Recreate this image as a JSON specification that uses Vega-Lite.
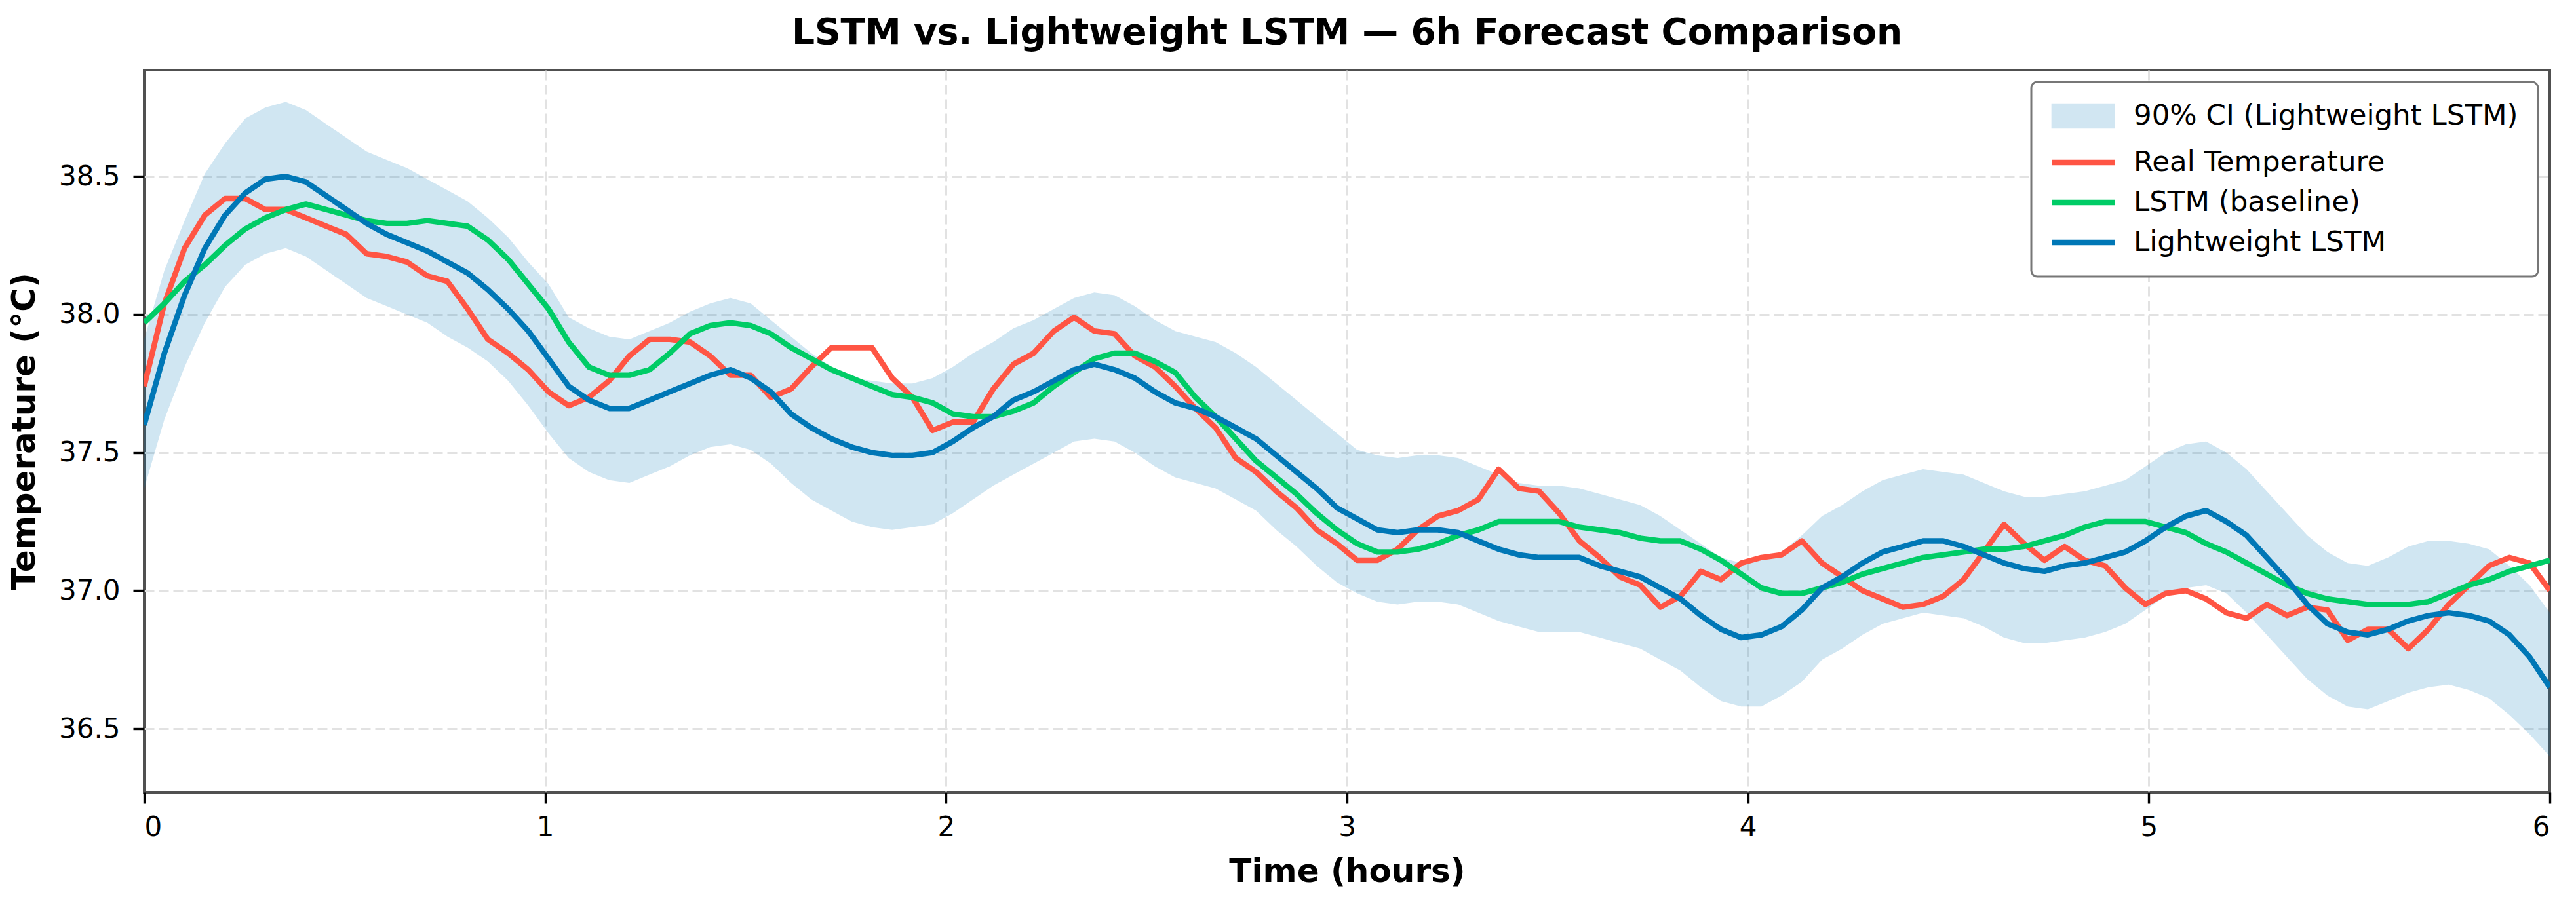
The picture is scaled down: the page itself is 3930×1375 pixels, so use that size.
{
  "$schema": "https://vega.github.io/schema/vega-lite/v6.json",
  "width": 3670,
  "height": 1102,
  "autosize": {"type": "none"},
  "padding": {"left": 220, "top": 107, "right": 40, "bottom": 166},
  "config": {
    "background": "white",
    "font": "DejaVu Sans",
    "view": {"stroke": "#505050", "strokeWidth": 4},
    "axis": {
      "domain": false,
      "labelFont": "DejaVu Sans",
      "labelFontSize": 42,
      "labelColor": "black",
      "titleFont": "DejaVu Sans",
      "titleFontSize": 50,
      "titleFontWeight": "bold",
      "titleColor": "black",
      "tickColor": "black",
      "tickWidth": 3.4,
      "tickSize": 17,
      "gridColor": "#e2e2e2",
      "gridWidth": 3,
      "gridDash": [15, 7]
    }
  },
  "title": {
    "text": "LSTM vs. Lightweight LSTM — 6h Forecast Comparison",
    "font": "DejaVu Sans",
    "fontSize": 55,
    "fontWeight": "bold",
    "color": "black",
    "anchor": "middle",
    "offset": 28
  },
  "data": {
    "values": [
      {"t": 0, "real": 37.74, "lstm": 37.97, "light": 37.6, "lo": 37.37, "hi": 37.91},
      {"t": 0.0504, "real": 38.04, "lstm": 38.04, "light": 37.86, "lo": 37.62, "hi": 38.16},
      {"t": 0.1008, "real": 38.24, "lstm": 38.12, "light": 38.07, "lo": 37.81, "hi": 38.34},
      {"t": 0.1513, "real": 38.36, "lstm": 38.18, "light": 38.24, "lo": 37.97, "hi": 38.51},
      {"t": 0.2017, "real": 38.42, "lstm": 38.25, "light": 38.36, "lo": 38.1, "hi": 38.62},
      {"t": 0.2521, "real": 38.42, "lstm": 38.31, "light": 38.44, "lo": 38.18, "hi": 38.71},
      {"t": 0.3025, "real": 38.38, "lstm": 38.35, "light": 38.49, "lo": 38.22, "hi": 38.75},
      {"t": 0.3529, "real": 38.38, "lstm": 38.38, "light": 38.5, "lo": 38.24, "hi": 38.77},
      {"t": 0.4034, "real": 38.35, "lstm": 38.4, "light": 38.48, "lo": 38.21, "hi": 38.74},
      {"t": 0.4538, "real": 38.32, "lstm": 38.38, "light": 38.43, "lo": 38.16, "hi": 38.69},
      {"t": 0.5042, "real": 38.29, "lstm": 38.36, "light": 38.38, "lo": 38.11, "hi": 38.64},
      {"t": 0.5546, "real": 38.22, "lstm": 38.34, "light": 38.33, "lo": 38.06, "hi": 38.59},
      {"t": 0.605, "real": 38.21, "lstm": 38.33, "light": 38.29, "lo": 38.03, "hi": 38.56},
      {"t": 0.6555, "real": 38.19, "lstm": 38.33, "light": 38.26, "lo": 38.0, "hi": 38.53},
      {"t": 0.7059, "real": 38.14, "lstm": 38.34, "light": 38.23, "lo": 37.97, "hi": 38.49},
      {"t": 0.7563, "real": 38.12, "lstm": 38.33, "light": 38.19, "lo": 37.92, "hi": 38.45},
      {"t": 0.8067, "real": 38.02, "lstm": 38.32, "light": 38.15, "lo": 37.88, "hi": 38.41},
      {"t": 0.8571, "real": 37.91, "lstm": 38.27, "light": 38.09, "lo": 37.83, "hi": 38.35},
      {"t": 0.9076, "real": 37.86, "lstm": 38.2, "light": 38.02, "lo": 37.76, "hi": 38.28},
      {"t": 0.958, "real": 37.8, "lstm": 38.11, "light": 37.94, "lo": 37.67, "hi": 38.19},
      {"t": 1.0084, "real": 37.72, "lstm": 38.02, "light": 37.84, "lo": 37.57, "hi": 38.11},
      {"t": 1.0588, "real": 37.67, "lstm": 37.9, "light": 37.74, "lo": 37.48, "hi": 37.99},
      {"t": 1.1092, "real": 37.7, "lstm": 37.81, "light": 37.69, "lo": 37.43, "hi": 37.95},
      {"t": 1.1597, "real": 37.76, "lstm": 37.78, "light": 37.66, "lo": 37.4, "hi": 37.92},
      {"t": 1.2101, "real": 37.85, "lstm": 37.78, "light": 37.66, "lo": 37.39, "hi": 37.91},
      {"t": 1.2605, "real": 37.91, "lstm": 37.8, "light": 37.69, "lo": 37.42, "hi": 37.94},
      {"t": 1.3109, "real": 37.91, "lstm": 37.86, "light": 37.72, "lo": 37.45, "hi": 37.97},
      {"t": 1.3613, "real": 37.9, "lstm": 37.93, "light": 37.75, "lo": 37.49, "hi": 38.01},
      {"t": 1.4118, "real": 37.85, "lstm": 37.96, "light": 37.78, "lo": 37.52, "hi": 38.04},
      {"t": 1.4622, "real": 37.78, "lstm": 37.97, "light": 37.8, "lo": 37.53, "hi": 38.06},
      {"t": 1.5126, "real": 37.78, "lstm": 37.96, "light": 37.77, "lo": 37.51, "hi": 38.04},
      {"t": 1.563, "real": 37.7, "lstm": 37.93, "light": 37.72, "lo": 37.46, "hi": 37.98},
      {"t": 1.6134, "real": 37.73, "lstm": 37.88, "light": 37.64, "lo": 37.39, "hi": 37.92},
      {"t": 1.6639, "real": 37.81, "lstm": 37.84, "light": 37.59, "lo": 37.33, "hi": 37.86},
      {"t": 1.7143, "real": 37.88, "lstm": 37.8, "light": 37.55, "lo": 37.29, "hi": 37.81},
      {"t": 1.7647, "real": 37.88, "lstm": 37.77, "light": 37.52, "lo": 37.25, "hi": 37.77},
      {"t": 1.8151, "real": 37.88, "lstm": 37.74, "light": 37.5, "lo": 37.23, "hi": 37.76},
      {"t": 1.8655, "real": 37.77, "lstm": 37.71, "light": 37.49, "lo": 37.22, "hi": 37.75},
      {"t": 1.916, "real": 37.7, "lstm": 37.7, "light": 37.49, "lo": 37.23, "hi": 37.75},
      {"t": 1.9664, "real": 37.58, "lstm": 37.68, "light": 37.5, "lo": 37.24, "hi": 37.77},
      {"t": 2.0168, "real": 37.61, "lstm": 37.64, "light": 37.54, "lo": 37.28, "hi": 37.81},
      {"t": 2.0672, "real": 37.61, "lstm": 37.63, "light": 37.59, "lo": 37.33, "hi": 37.86},
      {"t": 2.1176, "real": 37.73, "lstm": 37.63, "light": 37.63, "lo": 37.38, "hi": 37.9},
      {"t": 2.1681, "real": 37.82, "lstm": 37.65, "light": 37.69, "lo": 37.42, "hi": 37.95},
      {"t": 2.2185, "real": 37.86, "lstm": 37.68, "light": 37.72, "lo": 37.46, "hi": 37.98},
      {"t": 2.2689, "real": 37.94, "lstm": 37.74, "light": 37.76, "lo": 37.5, "hi": 38.02},
      {"t": 2.3193, "real": 37.99, "lstm": 37.79, "light": 37.8, "lo": 37.54, "hi": 38.06},
      {"t": 2.3697, "real": 37.94, "lstm": 37.84, "light": 37.82, "lo": 37.55, "hi": 38.08},
      {"t": 2.4202, "real": 37.93, "lstm": 37.86, "light": 37.8, "lo": 37.54, "hi": 38.07},
      {"t": 2.4706, "real": 37.85, "lstm": 37.86, "light": 37.77, "lo": 37.5, "hi": 38.03},
      {"t": 2.521, "real": 37.81, "lstm": 37.83, "light": 37.72, "lo": 37.45, "hi": 37.98},
      {"t": 2.5714, "real": 37.74, "lstm": 37.79, "light": 37.68, "lo": 37.41, "hi": 37.94},
      {"t": 2.6218, "real": 37.66, "lstm": 37.7, "light": 37.66, "lo": 37.39, "hi": 37.92},
      {"t": 2.6723, "real": 37.59, "lstm": 37.63, "light": 37.63, "lo": 37.37, "hi": 37.9},
      {"t": 2.7227, "real": 37.48, "lstm": 37.55, "light": 37.59, "lo": 37.33, "hi": 37.86},
      {"t": 2.7731, "real": 37.43, "lstm": 37.47, "light": 37.55, "lo": 37.29, "hi": 37.81},
      {"t": 2.8235, "real": 37.36, "lstm": 37.41, "light": 37.49, "lo": 37.22, "hi": 37.75},
      {"t": 2.8739, "real": 37.3, "lstm": 37.35, "light": 37.43, "lo": 37.16, "hi": 37.69},
      {"t": 2.9244, "real": 37.22, "lstm": 37.28, "light": 37.37, "lo": 37.09, "hi": 37.63},
      {"t": 2.9748, "real": 37.17, "lstm": 37.22, "light": 37.3, "lo": 37.03, "hi": 37.57},
      {"t": 3.0252, "real": 37.11, "lstm": 37.17, "light": 37.26, "lo": 36.99, "hi": 37.51},
      {"t": 3.0756, "real": 37.11, "lstm": 37.14, "light": 37.22, "lo": 36.96, "hi": 37.49},
      {"t": 3.1261, "real": 37.15, "lstm": 37.14, "light": 37.21, "lo": 36.95, "hi": 37.48},
      {"t": 3.1765, "real": 37.22, "lstm": 37.15, "light": 37.22, "lo": 36.96, "hi": 37.49},
      {"t": 3.2269, "real": 37.27, "lstm": 37.17, "light": 37.22, "lo": 36.96, "hi": 37.49},
      {"t": 3.2773, "real": 37.29, "lstm": 37.2, "light": 37.21, "lo": 36.95, "hi": 37.48},
      {"t": 3.3277, "real": 37.33, "lstm": 37.22, "light": 37.18, "lo": 36.92, "hi": 37.45},
      {"t": 3.3782, "real": 37.44, "lstm": 37.25, "light": 37.15, "lo": 36.89, "hi": 37.42},
      {"t": 3.4286, "real": 37.37, "lstm": 37.25, "light": 37.13, "lo": 36.87, "hi": 37.39},
      {"t": 3.479, "real": 37.36, "lstm": 37.25, "light": 37.12, "lo": 36.85, "hi": 37.38},
      {"t": 3.5294, "real": 37.28, "lstm": 37.25, "light": 37.12, "lo": 36.85, "hi": 37.38},
      {"t": 3.5798, "real": 37.18, "lstm": 37.23, "light": 37.12, "lo": 36.85, "hi": 37.37},
      {"t": 3.6303, "real": 37.12, "lstm": 37.22, "light": 37.09, "lo": 36.83, "hi": 37.35},
      {"t": 3.6807, "real": 37.05, "lstm": 37.21, "light": 37.07, "lo": 36.81, "hi": 37.33},
      {"t": 3.7311, "real": 37.02, "lstm": 37.19, "light": 37.05, "lo": 36.79, "hi": 37.31},
      {"t": 3.7815, "real": 36.94, "lstm": 37.18, "light": 37.01, "lo": 36.75, "hi": 37.27},
      {"t": 3.8319, "real": 36.98, "lstm": 37.18, "light": 36.97, "lo": 36.71, "hi": 37.22},
      {"t": 3.8824, "real": 37.07, "lstm": 37.15, "light": 36.91, "lo": 36.65, "hi": 37.17},
      {"t": 3.9328, "real": 37.04, "lstm": 37.11, "light": 36.86, "lo": 36.6, "hi": 37.12},
      {"t": 3.9832, "real": 37.1, "lstm": 37.06, "light": 36.83, "lo": 36.58, "hi": 37.1},
      {"t": 4.0336, "real": 37.12, "lstm": 37.01, "light": 36.84, "lo": 36.58, "hi": 37.11},
      {"t": 4.084, "real": 37.13, "lstm": 36.99, "light": 36.87, "lo": 36.62, "hi": 37.14},
      {"t": 4.1345, "real": 37.18, "lstm": 36.99, "light": 36.93, "lo": 36.67, "hi": 37.2},
      {"t": 4.1849, "real": 37.1, "lstm": 37.01, "light": 37.01, "lo": 36.75, "hi": 37.27},
      {"t": 4.2353, "real": 37.05, "lstm": 37.03, "light": 37.05, "lo": 36.79, "hi": 37.31},
      {"t": 4.2857, "real": 37.0, "lstm": 37.06, "light": 37.1, "lo": 36.84, "hi": 37.36},
      {"t": 4.3361, "real": 36.97, "lstm": 37.08, "light": 37.14, "lo": 36.88, "hi": 37.4},
      {"t": 4.3866, "real": 36.94, "lstm": 37.1, "light": 37.16, "lo": 36.9, "hi": 37.42},
      {"t": 4.437, "real": 36.95, "lstm": 37.12, "light": 37.18, "lo": 36.92, "hi": 37.44},
      {"t": 4.4874, "real": 36.98, "lstm": 37.13, "light": 37.18, "lo": 36.91, "hi": 37.43},
      {"t": 4.5378, "real": 37.04, "lstm": 37.14, "light": 37.16, "lo": 36.9, "hi": 37.42},
      {"t": 4.5882, "real": 37.14, "lstm": 37.15, "light": 37.13, "lo": 36.87, "hi": 37.39},
      {"t": 4.6387, "real": 37.24, "lstm": 37.15, "light": 37.1, "lo": 36.83, "hi": 37.36},
      {"t": 4.6891, "real": 37.17, "lstm": 37.16, "light": 37.08, "lo": 36.81, "hi": 37.34},
      {"t": 4.7395, "real": 37.11, "lstm": 37.18, "light": 37.07, "lo": 36.81, "hi": 37.34},
      {"t": 4.7899, "real": 37.16, "lstm": 37.2, "light": 37.09, "lo": 36.82, "hi": 37.35},
      {"t": 4.8403, "real": 37.11, "lstm": 37.23, "light": 37.1, "lo": 36.83, "hi": 37.36},
      {"t": 4.8908, "real": 37.09, "lstm": 37.25, "light": 37.12, "lo": 36.85, "hi": 37.38},
      {"t": 4.9412, "real": 37.01, "lstm": 37.25, "light": 37.14, "lo": 36.88, "hi": 37.4},
      {"t": 4.9916, "real": 36.95, "lstm": 37.25, "light": 37.18, "lo": 36.93, "hi": 37.45},
      {"t": 5.042, "real": 36.99, "lstm": 37.23, "light": 37.23, "lo": 36.98, "hi": 37.5},
      {"t": 5.0924, "real": 37.0, "lstm": 37.21, "light": 37.27, "lo": 37.01, "hi": 37.53},
      {"t": 5.1429, "real": 36.97, "lstm": 37.17, "light": 37.29, "lo": 37.02, "hi": 37.54},
      {"t": 5.1933, "real": 36.92, "lstm": 37.14, "light": 37.25, "lo": 36.99, "hi": 37.5},
      {"t": 5.2437, "real": 36.9, "lstm": 37.1, "light": 37.2, "lo": 36.92, "hi": 37.44},
      {"t": 5.2941, "real": 36.95, "lstm": 37.06, "light": 37.12, "lo": 36.84, "hi": 37.36},
      {"t": 5.3445, "real": 36.91, "lstm": 37.02, "light": 37.04, "lo": 36.76, "hi": 37.28},
      {"t": 5.395, "real": 36.94, "lstm": 36.99, "light": 36.95, "lo": 36.68, "hi": 37.2},
      {"t": 5.4454, "real": 36.93, "lstm": 36.97, "light": 36.88, "lo": 36.62, "hi": 37.14},
      {"t": 5.4958, "real": 36.82, "lstm": 36.96, "light": 36.85, "lo": 36.58, "hi": 37.1},
      {"t": 5.5462, "real": 36.86, "lstm": 36.95, "light": 36.84, "lo": 36.57, "hi": 37.09},
      {"t": 5.5966, "real": 36.86, "lstm": 36.95, "light": 36.86, "lo": 36.6, "hi": 37.12},
      {"t": 5.6471, "real": 36.79, "lstm": 36.95, "light": 36.89, "lo": 36.63, "hi": 37.16},
      {"t": 5.6975, "real": 36.86, "lstm": 36.96, "light": 36.91, "lo": 36.65, "hi": 37.18},
      {"t": 5.7479, "real": 36.95, "lstm": 36.99, "light": 36.92, "lo": 36.66, "hi": 37.18},
      {"t": 5.7983, "real": 37.02, "lstm": 37.02, "light": 36.91, "lo": 36.64, "hi": 37.17},
      {"t": 5.8487, "real": 37.09, "lstm": 37.04, "light": 36.89, "lo": 36.61, "hi": 37.15},
      {"t": 5.8992, "real": 37.12, "lstm": 37.07, "light": 36.84, "lo": 36.55, "hi": 37.09},
      {"t": 5.9496, "real": 37.1, "lstm": 37.09, "light": 36.76, "lo": 36.48, "hi": 37.02},
      {"t": 6.0, "real": 37.0, "lstm": 37.11, "light": 36.65, "lo": 36.4, "hi": 36.92}
    ]
  },
  "encoding": {
    "x": {
      "field": "t",
      "type": "quantitative",
      "title": "Time (hours)",
      "scale": {"domain": [0, 6], "nice": false, "zero": false},
      "axis": {
        "values": [0, 1, 2, 3, 4, 5, 6],
        "format": "d",
        "labelPadding": 16,
        "titlePadding": 22,
        "gridOpacity": {"condition": {"test": "datum.value === 0 || datum.value === 6", "value": 0}, "value": 1}
      }
    }
  },
  "layer": [
    {
      "mark": {"type": "area", "color": "#0077b6", "opacity": 0.185, "clip": true},
      "encoding": {
        "y": {
          "field": "lo",
          "type": "quantitative",
          "title": "Temperature (°C)",
          "scale": {"domain": [36.27, 38.885], "nice": false, "zero": false},
          "axis": {"values": [36.5, 37, 37.5, 38, 38.5], "format": ".1f", "labelPadding": 20, "titlePadding": 27}
        },
        "y2": {"field": "hi"}
      }
    },
    {
      "mark": {"type": "line", "strokeWidth": 8.4, "strokeJoin": "round", "clip": true},
      "encoding": {
        "y": {"field": "real", "type": "quantitative"},
        "color": {
          "datum": "Real Temperature",
          "type": "nominal",
          "scale": {
            "domain": ["90% CI (Lightweight LSTM)", "Real Temperature", "LSTM (baseline)", "Lightweight LSTM"],
            "range": ["#d1e6f2", "#ff5544", "#00cc66", "#0077b6"]
          },
          "legend": {
            "title": null,
            "orient": "top-right",
            "offset": 18,
            "padding": 30,
            "rowPadding": 17,
            "labelFont": "DejaVu Sans",
            "labelFontSize": 43.5,
            "labelColor": "black",
            "labelLimit": 2000,
            "labelOffset": 82,
            "symbolSize": 1225,
            "symbolStrokeWidth": 8.4,
            "strokeColor": "#777777",
            "fillColor": "white",
            "cornerRadius": 9,
            "encode": {
              "legend": {"update": {"strokeWidth": {"value": 3}}},
              "symbols": {
                "update": {
                  "shape": {"signal": "datum.value === '90% CI (Lightweight LSTM)' ? 'M-0.98,-0.86H4.06V0.86H-0.98Z' : 'M-1.16,0H4.33'"},
                  "fill": {"signal": "datum.value === '90% CI (Lightweight LSTM)' ? '#d1e6f2' : 'transparent'"},
                  "stroke": {"signal": "datum.value === '90% CI (Lightweight LSTM)' ? 'transparent' : datum.value === 'Real Temperature' ? '#ff5544' : datum.value === 'LSTM (baseline)' ? '#00cc66' : '#0077b6'"},
                  "strokeWidth": {"value": 8.4},
                  "opacity": {"value": 1}
                }
              }
            }
          }
        }
      }
    },
    {
      "mark": {"type": "line", "strokeWidth": 8.4, "strokeJoin": "round", "clip": true},
      "encoding": {
        "y": {"field": "lstm", "type": "quantitative"},
        "color": {
          "datum": "LSTM (baseline)",
          "type": "nominal",
          "scale": {
            "domain": ["90% CI (Lightweight LSTM)", "Real Temperature", "LSTM (baseline)", "Lightweight LSTM"],
            "range": ["#d1e6f2", "#ff5544", "#00cc66", "#0077b6"]
          }
        }
      }
    },
    {
      "mark": {"type": "line", "strokeWidth": 8.4, "strokeJoin": "round", "clip": true},
      "encoding": {
        "y": {"field": "light", "type": "quantitative"},
        "color": {
          "datum": "Lightweight LSTM",
          "type": "nominal",
          "scale": {
            "domain": ["90% CI (Lightweight LSTM)", "Real Temperature", "LSTM (baseline)", "Lightweight LSTM"],
            "range": ["#d1e6f2", "#ff5544", "#00cc66", "#0077b6"]
          }
        }
      }
    }
  ]
}
